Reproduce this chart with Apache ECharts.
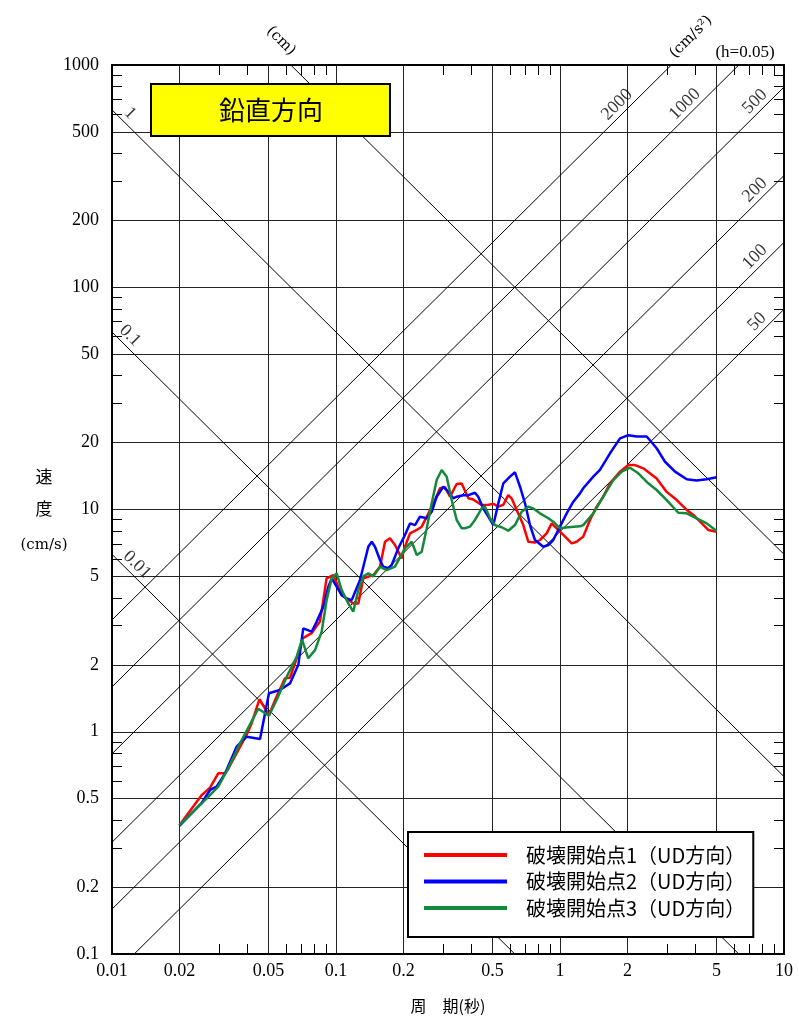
<!DOCTYPE html>
<html>
<head>
<meta charset="utf-8">
<title>鉛直方向</title>
<script src="https://cdn.jsdelivr.net/npm/echarts@6/dist/echarts.min.js"></script>
<style>
  html, body { margin: 0; padding: 0; background: #fff; }
  #chart { width: 799px; height: 1017px; }
</style>
</head>
<body>
<div id="chart"></div>
<script>
// 周期 (s) / 速度 (cm/s)
const redT = [0.02, 0.0252, 0.0274, 0.0298, 0.032, 0.033, 0.0399, 0.042, 0.0455, 0.0502, 0.0543, 0.0592, 0.0623, 0.0656, 0.0712, 0.0779, 0.0848, 0.0908, 0.0973, 0.106, 0.1194, 0.1258, 0.1324, 0.1468, 0.1572, 0.1655, 0.1742, 0.1834, 0.1965, 0.2032, 0.214, 0.2293, 0.2413, 0.2541, 0.2767, 0.2912, 0.3066, 0.3228, 0.3458, 0.364, 0.39, 0.41, 0.4466, 0.4786, 0.504, 0.5305, 0.5585, 0.5875, 0.6089, 0.641, 0.6855, 0.722, 0.773, 0.814, 0.872, 0.918, 0.966, 1.035, 1.128, 1.187, 1.27, 1.361, 1.458, 1.56, 1.672, 1.853, 2.018, 2.162, 2.355, 2.7, 2.995, 3.32, 3.68, 3.94, 4.22, 4.59, 5.0];
const redV = [0.38, 0.52, 0.56, 0.65, 0.65, 0.68, 0.97, 1.09, 1.4, 1.19, 1.44, 1.74, 1.75, 2.03, 2.64, 2.78, 3.13, 4.9, 5.07, 4.12, 3.78, 3.78, 4.9, 5.07, 5.53, 7.16, 7.42, 6.92, 6.03, 6.8, 7.81, 8.09, 8.37, 9.28, 11.03, 12.46, 12.6, 11.42, 13.02, 13.1, 11.23, 11.1, 10.47, 10.5, 10.6, 10.3, 10.5, 11.6, 11.2, 9.95, 8.51, 7.16, 7.1, 7.29, 7.81, 8.66, 8.23, 7.68, 7.04, 7.16, 7.55, 8.97, 10.3, 11.42, 13.12, 14.8, 15.85, 15.85, 15.32, 13.8, 12.0, 11.03, 9.95, 9.45, 8.81, 8.09, 7.94];

const blueT = [0.02, 0.0251, 0.0274, 0.0293, 0.032, 0.036, 0.0399, 0.0458, 0.0502, 0.0562, 0.0623, 0.0679, 0.0714, 0.0779, 0.082, 0.0878, 0.0924, 0.0957, 0.106, 0.1116, 0.1175, 0.128, 0.1394, 0.1444, 0.1493, 0.1572, 0.1625, 0.1712, 0.1773, 0.1897, 0.2032, 0.214, 0.2253, 0.2371, 0.2541, 0.2675, 0.2815, 0.3013, 0.3172, 0.334, 0.3458, 0.37, 0.39, 0.4174, 0.4315, 0.4546, 0.4786, 0.504, 0.5305, 0.5585, 0.598, 0.6295, 0.663, 0.698, 0.7345, 0.773, 0.842, 0.887, 0.933, 1.0, 1.071, 1.147, 1.228, 1.27, 1.408, 1.508, 1.672, 1.853, 2.018, 2.2, 2.438, 2.7, 2.943, 3.262, 3.68, 4.07, 4.52, 5.0];
const blueV = [0.377, 0.477, 0.547, 0.566, 0.65, 0.857, 0.95, 0.928, 1.49, 1.54, 1.65, 2.0, 2.92, 2.82, 3.13, 3.65, 4.49, 4.9, 4.12, 3.98, 3.91, 4.82, 6.8, 7.16, 6.8, 5.93, 5.53, 5.44, 5.63, 6.69, 7.68, 8.66, 8.51, 9.28, 9.13, 9.77, 11.42, 12.66, 12.0, 11.23, 11.42, 11.6, 11.6, 11.9, 11.42, 10.1, 9.28, 8.51, 10.66, 13.12, 14.05, 14.7, 12.66, 10.66, 8.51, 7.29, 6.8, 6.92, 7.29, 8.37, 9.61, 10.84, 11.82, 12.46, 14.05, 15.06, 17.9, 20.9, 21.6, 21.3, 21.3, 18.86, 16.4, 14.8, 13.67, 13.5, 13.67, 13.96];

const greenT = [0.02, 0.0265, 0.0298, 0.033, 0.0373, 0.045, 0.0502, 0.0543, 0.0603, 0.0668, 0.0705, 0.0752, 0.0806, 0.0863, 0.0908, 0.0957, 0.1007, 0.106, 0.1135, 0.1194, 0.1258, 0.1324, 0.1394, 0.1468, 0.1572, 0.1684, 0.1834, 0.2032, 0.2178, 0.2293, 0.2413, 0.2541, 0.2675, 0.2815, 0.2964, 0.312, 0.3285, 0.3458, 0.364, 0.3766, 0.396, 0.4174, 0.4466, 0.4626, 0.487, 0.5127, 0.5493, 0.5875, 0.6295, 0.6745, 0.7215, 0.76, 0.814, 0.887, 0.933, 1.0, 1.089, 1.228, 1.27, 1.408, 1.56, 1.73, 1.886, 2.053, 2.237, 2.478, 2.7, 2.995, 3.375, 3.68, 4.07, 4.52, 5.0];
const greenV = [0.38, 0.502, 0.566, 0.684, 0.887, 1.27, 1.18, 1.39, 1.77, 2.18, 2.6, 2.14, 2.33, 2.82, 3.91, 4.9, 5.16, 4.34, 3.78, 3.47, 4.34, 5.0, 5.16, 5.0, 5.53, 5.34, 5.53, 6.69, 7.16, 6.24, 6.46, 8.23, 10.66, 13.57, 15.06, 14.05, 11.03, 8.97, 8.23, 8.23, 8.37, 8.97, 10.1, 10.3, 9.13, 8.51, 8.32, 8.03, 8.51, 9.77, 10.3, 10.1, 9.61, 9.13, 8.81, 8.23, 8.32, 8.4, 8.51, 9.61, 11.42, 13.57, 14.8, 15.42, 14.55, 13.12, 12.24, 11.03, 9.67, 9.61, 9.13, 8.66, 8.0];

const seriesNames = ['破壊開始点1（UD方向）', '破壊開始点2（UD方向）', '破壊開始点3（UD方向）'];

// 軸
const xMajor = [0.01, 0.02, 0.05, 0.1, 0.2, 0.5, 1, 2, 5, 10];
const xMinor = [0.03, 0.04, 0.06, 0.07, 0.08, 0.09, 0.3, 0.4, 0.6, 0.7, 0.8, 0.9, 3, 4, 6, 7, 8, 9];
const yMajor = [0.1, 0.2, 0.5, 1, 2, 5, 10, 20, 50, 100, 200, 500, 1000];
const yMinor = [0.3, 0.4, 0.6, 0.7, 0.8, 0.9, 3, 4, 6, 7, 8, 9, 30, 40, 60, 70, 80, 90, 300, 400, 600, 700, 800, 900];

// 三軸図の斜線 (変位 cm / 加速度 cm/s2)
const dispLevels = [10, 1, 0.1, 0.01];
const dispNames = ['', '1', '0.1', '0.01'];
const dispLabelT = [0, 0.01203, 0.01203, 0.01293];
const accLevels = [2000, 1000, 500, 200, 100, 50];
const accNames = ['2000', '1000', '500', '200', '100', '50'];
const accLabelT = [1.797, 3.614, 7.42, 7.42, 7.42, 7.58];

const xMin = 0.01, xMax = 10, yMin = 0.1, yMax = 1000;
const TWO_PI = 2 * Math.PI;
const serif = 'Liberation Serif';
const cjk = 'Noto Sans CJK JP';

function pairs(ts, vs) {
    return ts.map(function (t, i) { return [t, vs[i]]; });
}
function fmt(v) {
    return String(parseFloat(Number(v).toPrecision(4)));
}

let chart = echarts.init(document.getElementById('chart'));

let guideSeries = [];
dispLevels.forEach(function (d) {
    let t1 = Math.max(xMin, TWO_PI * d / yMax);
    let t2 = Math.min(xMax, TWO_PI * d / yMin);
    guideSeries.push({
        type: 'line', silent: true, symbol: 'none', z: 1,
        data: [[t1, TWO_PI * d / t1], [t2, TWO_PI * d / t2]],
        lineStyle: { color: '#000', width: 1 }
    });
});
accLevels.forEach(function (a) {
    let t1 = Math.max(xMin, TWO_PI * yMin / a);
    let t2 = Math.min(xMax, TWO_PI * yMax / a);
    guideSeries.push({
        type: 'line', silent: true, symbol: 'none', z: 1,
        data: [[t1, a * t1 / TWO_PI], [t2, a * t2 / TWO_PI]],
        lineStyle: { color: '#000', width: 1 }
    });
});

// 斜線ラベル (線の少し上)
const lift = 1.16;
let dispLabelData = [];
dispLevels.forEach(function (d, i) {
    if (!dispNames[i]) return;
    let t = dispLabelT[i];
    dispLabelData.push({ name: dispNames[i], value: [t, TWO_PI * d / t * lift] });
});
let accLabelData = accLevels.map(function (a, i) {
    let t = accLabelT[i];
    return { name: accNames[i], value: [t, a * t / TWO_PI * lift] };
});
function labelSeries(data, rot) {
    return {
        type: 'scatter', silent: true, symbolSize: 0, z: 3, data: data,
        label: {
            show: true, position: 'inside', formatter: '{b}', rotate: rot,
            fontFamily: serif, fontSize: 18, color: '#000'
        }
    };
}

function mainSeries(name, ts, vs, color) {
    return {
        name: name, type: 'line', symbol: 'none', z: 5,
        data: pairs(ts, vs),
        lineStyle: { color: color, width: 2.5 },
        itemStyle: { color: color }
    };
}

function minorAxis(pos, showLine) {
    return {
        type: 'log', logBase: 10, position: pos,
        axisLine: { show: showLine, onZero: false, lineStyle: { color: '#000', width: 2 } },
        axisTick: { show: true, inside: true, length: 10, customValues: null, lineStyle: { color: '#000', width: 1 } },
        axisLabel: { show: false },
        splitLine: { show: false }
    };
}

let xMinorBottom = minorAxis('bottom', false);
let xMinorTop = minorAxis('top', true);
[xMinorBottom, xMinorTop].forEach(function (ax) {
    ax.min = xMin; ax.max = xMax; ax.axisTick.customValues = xMinor;
});
let yMinorLeft = minorAxis('left', false);
let yMinorRight = minorAxis('right', true);
[yMinorLeft, yMinorRight].forEach(function (ax) {
    ax.min = yMin; ax.max = yMax; ax.axisTick.customValues = yMinor;
});

chart.setOption({
    animation: false,
    backgroundColor: '#fff',
    title: {
        text: '鉛直方向',
        left: 151, top: 84,
        padding: [10, 67, 10, 68],
        backgroundColor: '#ffff00',
        borderColor: '#000', borderWidth: 2,
        textStyle: { fontFamily: cjk, fontSize: 26, fontWeight: 'normal', color: '#000', lineHeight: 32 }
    },
    legend: {
        data: seriesNames,
        orient: 'vertical',
        left: 408, top: 832,
        padding: [13, 8, 19, 16],
        itemGap: 6.5,
        icon: 'rect',
        itemWidth: 83, itemHeight: 4,
        backgroundColor: '#fff',
        borderColor: '#000', borderWidth: 2,
        textStyle: { fontFamily: cjk, fontSize: 20, lineHeight: 20, color: '#000', padding: [0, 0, 0, 14] }
    },
    grid: { left: 112, right: 15, top: 65, bottom: 63 },
    xAxis: [
        {
            type: 'log', logBase: 10, min: xMin, max: xMax, position: 'bottom',
            axisLine: { show: true, onZero: false, lineStyle: { color: '#000', width: 2 } },
            axisTick: { show: false, customValues: xMajor },
            axisLabel: { customValues: xMajor, formatter: fmt, fontFamily: serif, fontSize: 18, color: '#000', margin: 8 },
            splitLine: { show: true, lineStyle: { color: '#222', width: 1 } }
        },
        xMinorBottom,
        xMinorTop
    ],
    yAxis: [
        {
            type: 'log', logBase: 10, min: yMin, max: yMax, position: 'left',
            axisLine: { show: true, onZero: false, lineStyle: { color: '#000', width: 2 } },
            axisTick: { show: false, customValues: yMajor },
            axisLabel: { customValues: yMajor, formatter: fmt, fontFamily: serif, fontSize: 18, color: '#000', margin: 13 },
            splitLine: { show: true, lineStyle: { color: '#222', width: 1 } }
        },
        yMinorLeft,
        yMinorRight
    ],
    graphic: [
        { type: 'text', x: 44, y: 477, style: { text: '速', fontFamily: cjk, fontSize: 17, fill: '#000', align: 'center', verticalAlign: 'middle' } },
        { type: 'text', x: 44, y: 509, style: { text: '度', fontFamily: cjk, fontSize: 17, fill: '#000', align: 'center', verticalAlign: 'middle' } },
        { type: 'text', x: 44, y: 545, style: { text: '(cm/s)', fontFamily: 'DejaVu Serif', fontSize: 15, fill: '#000', align: 'center', verticalAlign: 'middle' } },
        { type: 'text', x: 448, y: 1006, style: { text: '周　期(秒)', fontFamily: cjk, fontSize: 16, fill: '#000', align: 'center', verticalAlign: 'middle' } },
        { type: 'text', x: 281, y: 41, rotation: -Math.PI / 4, style: { text: '(cm)', fontFamily: 'DejaVu Serif', fontSize: 15, fill: '#000', align: 'center', verticalAlign: 'middle' } },
        { type: 'text', x: 691, y: 37, rotation: Math.PI / 4, style: { text: '(cm/s²)', fontFamily: 'DejaVu Serif', fontSize: 15, fill: '#000', align: 'center', verticalAlign: 'middle' } },
        { type: 'text', x: 745, y: 53, style: { text: '(h=0.05)', fontFamily: serif, fontSize: 17, fill: '#000', align: 'center', verticalAlign: 'middle' } }
    ],
    series: guideSeries.concat([
        labelSeries(dispLabelData, -45),
        labelSeries(accLabelData, 45),
        mainSeries(seriesNames[0], redT, redV, '#ff0000'),
        mainSeries(seriesNames[1], blueT, blueV, '#0000ff'),
        mainSeries(seriesNames[2], greenT, greenV, '#13893a')
    ])
});

window.addEventListener('resize', function () {
    chart.resize();
});
</script>
</body>
</html>
